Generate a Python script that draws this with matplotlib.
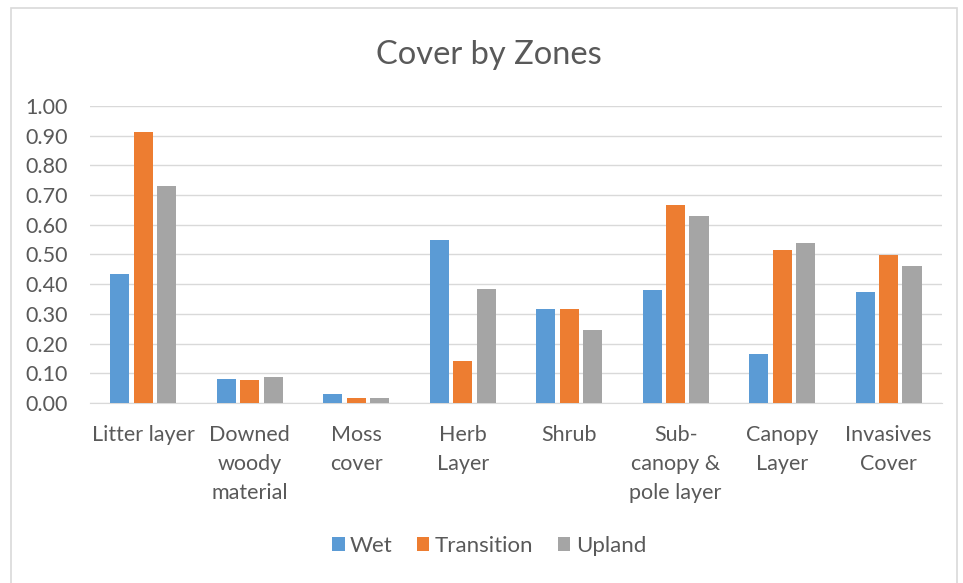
import numpy as np
import matplotlib.pyplot as plt
from matplotlib.patches import Rectangle

plt.rcParams['font.family'] = ['Lato', 'DejaVu Sans']

categories = ["Litter layer", "Downed\nwoody\nmaterial", "Moss\ncover", "Herb\nLayer",
              "Shrub", "Sub-\ncanopy &\npole layer", "Canopy\nLayer", "Invasives\nCover"]
wet = [0.433, 0.082, 0.029, 0.548, 0.315, 0.380, 0.163, 0.375]
transition = [0.913, 0.077, 0.018, 0.142, 0.315, 0.666, 0.515, 0.499]
upland = [0.730, 0.088, 0.018, 0.384, 0.245, 0.629, 0.537, 0.462]
yticks = [0.0, 0.1, 0.2, 0.3, 0.4, 0.5, 0.6, 0.7, 0.8, 0.9, 1.0]

series = [("Wet", wet, "#5B9BD5"),
          ("Transition", transition, "#ED7D31"),
          ("Upland", upland, "#A5A5A5")]

txt = "#595959"
fig = plt.figure(figsize=(9.63, 5.83), dpi=100)
ax = fig.add_axes([0.0935, 0.309, 0.8845, 0.509])

x = np.arange(len(categories))
width = 0.18
step = 0.22
for i, (name, vals, col) in enumerate(series):
    ax.bar(x + (i - 1) * step, vals, width, color=col, label=name, zorder=3)

ax.set_xlim(-0.5, len(categories) - 0.5)
ax.set_ylim(0, 1.0)
ax.set_yticks(yticks)
ax.set_yticklabels([f"{v:.2f}" for v in yticks])
ax.yaxis.grid(True, color="#D9D9D9", linewidth=1, zorder=0)
ax.set_xticks(x)
ax.set_xticklabels(categories, linespacing=1.57, va="top")
ax.tick_params(axis="both", length=0, colors=txt, labelsize=15.5)
ax.tick_params(axis="x", pad=16)
ax.tick_params(axis="y", pad=16)
for s in ["top", "right", "left"]:
    ax.spines[s].set_visible(False)
ax.spines["bottom"].set_color("#D9D9D9")

fig.text(0.508, 0.905, "Cover by Zones", ha="center", va="center", fontsize=23.5, color=txt)

leg = fig.legend(loc="center", bbox_to_anchor=(0.508, 0.063), ncol=3, frameon=False,
                 fontsize=16, handlelength=0.55, handleheight=0.6, handletextpad=0.25,
                 columnspacing=1.1)
for t in leg.get_texts():
    t.set_color(txt)

# chart border box
fig.add_artist(Rectangle((11 / 963, -0.05), (957 - 11) / 963, 1.05 - 8 / 583,
                         transform=fig.transFigure, fill=False,
                         edgecolor="#D9D9D9", linewidth=1.2))

fig.savefig("out.png", dpi=100, facecolor="white")
